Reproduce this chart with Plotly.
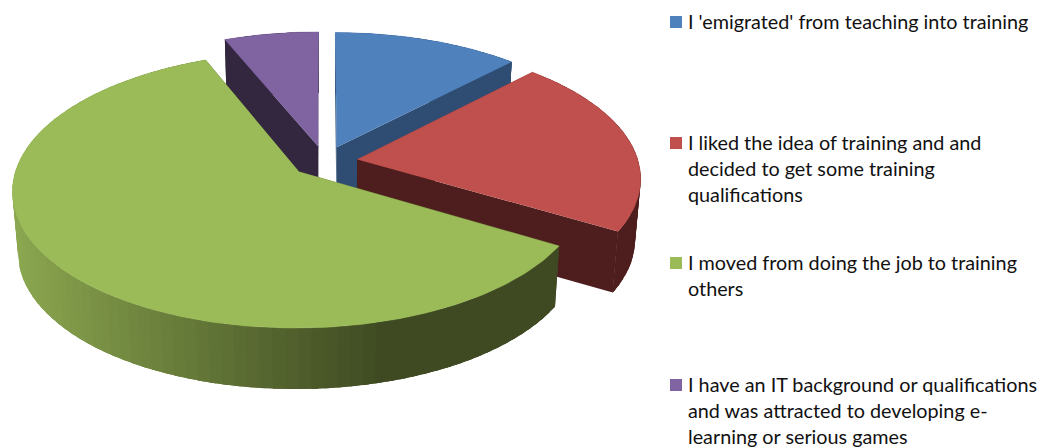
import numpy as np
import plotly.graph_objects as go

categories = ["I 'emigrated' from teaching into training",
              "I liked the idea of training and and<br>decided to get some training<br>qualifications",
              "I moved from doing the job to training<br>others",
              "I have an IT background or qualifications<br>and was attracted to developing e-<br>learning or serious games"]
values = [12.2, 21.3, 60.3, 6.2]
top_colors = ["#4F81BD", "#C0504D", "#9BBB59", "#8064A2"]
wall_colors = ["#2F4D73", "#4E1E1E", "#3F4A22", "#33273F"]
legend_y = [22, 143, 263, 385]

Cx, Cy, A, B, K, H, SHRINK, EXPLODE = 324.5, 161.5, 281, 133, 0.13, 61, 0.982, 0.118
LINE_H = 26


def proj(u, v, bottom=False):
    w = 1 + K * v
    x = Cx + A * u / w
    y = Cy - B * v / w
    if bottom:
        x = Cx + (x - Cx) * SHRINK
        y = y + H
    return x, y


def poly(fig, xs, ys, color, width=0.0):
    fig.add_trace(go.Scatter(x=list(xs), y=list(ys), mode="lines", fill="toself",
                             fillcolor=color, line=dict(color=color, width=width),
                             hoverinfo="skip", showlegend=False))


def mix(c1, c2, t):
    a = [int(c1[i:i + 2], 16) for i in (1, 3, 5)]
    b = [int(c2[i:i + 2], 16) for i in (1, 3, 5)]
    return "rgb(%d,%d,%d)" % tuple(round(p + (q - p) * t) for p, q in zip(a, b))


fig = go.Figure()
total = sum(values)
edges = np.concatenate([[0], np.cumsum(values)]) / total * 2 * np.pi
slices = []
for i in range(len(values)):
    slices.append((i, edges[i], edges[i + 1]))

for i, t0, t1 in [slices[3], slices[0], slices[1], slices[2]]:
    mid = (t0 + t1) / 2
    ou, ov = EXPLODE * np.sin(mid), EXPLODE * np.cos(mid)
    th = np.linspace(t0, t1, max(8, int((t1 - t0) / 0.02)))
    us, vs = ou + np.sin(th), ov + np.cos(th)
    # radial end faces
    for ue, ve in [(us[0], vs[0]), (us[-1], vs[-1])]:
        p = [proj(ou, ov), proj(ue, ve), proj(ue, ve, True), proj(ou, ov, True)]
        poly(fig, [q[0] for q in p], [q[1] for q in p], wall_colors[i])
    # outer rim: overlapping strips, painted so each one covers the seam of the last
    step = 2
    for j in list(range(0, len(th) - 1, step))[::-1]:
        e = min(j + step + 3, len(th) - 1)
        tx, ty = proj(us[j:e + 1], vs[j:e + 1])
        bx, by = proj(us[j:e + 1], vs[j:e + 1], True)
        color = wall_colors[i]
        if i == 2:
            f = np.clip((tx[:step + 1].mean() - 15) / 385, 0, 1)
            color = mix("#8CA850", wall_colors[i], f)
        poly(fig, np.r_[tx, bx[::-1]], np.r_[ty, by[::-1]], color)
    # top face
    tx, ty = proj(us, vs)
    ax, ay = proj(ou, ov)
    poly(fig, np.r_[ax, tx], np.r_[ay, ty], top_colors[i], 0.4)

fig.add_trace(go.Scatter(x=[676] * 4, y=legend_y, mode="markers",
                         marker=dict(symbol="square", size=12, color=top_colors),
                         hoverinfo="skip", showlegend=False))

annotations = []
for label, y0 in zip(categories, legend_y):
    for n, line in enumerate(label.split("<br>")):
        annotations.append(dict(x=685.5, y=y0 + n * LINE_H - 1, xref="x", yref="y", text=line,
                                showarrow=False, xanchor="left", yanchor="middle",
                                font=dict(family="Lato", size=19.8, color="#111111")))

fig.update_layout(width=1040, height=448, margin=dict(l=0, r=0, t=0, b=0),
                  paper_bgcolor="white", plot_bgcolor="white", showlegend=False,
                  xaxis=dict(range=[0, 1040], visible=False, fixedrange=True),
                  yaxis=dict(range=[448, 0], visible=False, fixedrange=True),
                  annotations=annotations)
fig.write_html("out.html", post_script="document.body.style.margin='0';", config={"displayModeBar": False})
